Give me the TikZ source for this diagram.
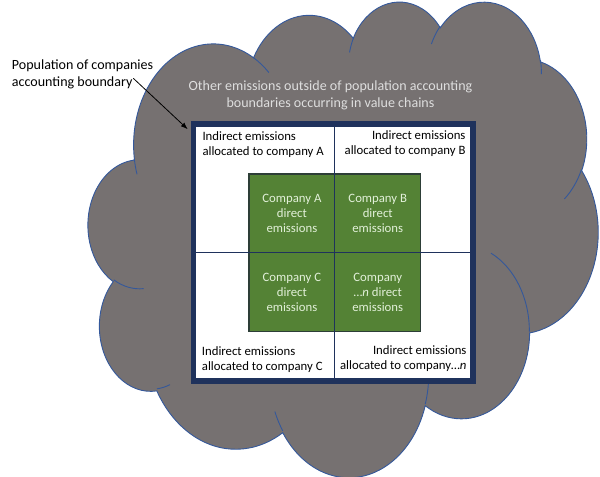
\documentclass[tikz,border=0pt]{standalone}
\usepackage{fontspec}
\setmainfont{Carlito}
\definecolor{colorCloud}{RGB}{118,113,113}
\definecolor{colorCloudEdge}{RGB}{52,88,155}
\definecolor{colorCloudText}{RGB}{222,222,222}
\definecolor{colorFrame}{RGB}{31,50,92}
\definecolor{colorDirect}{RGB}{84,130,53}
\definecolor{colorDirectEdge}{RGB}{45,62,55}
\definecolor{colorDirectText}{RGB}{226,240,217}
\usetikzlibrary{arrows.meta, positioning}
\tikzset{
  direct/.style={fill=colorDirect, draw=colorDirectEdge, line width=1.2bp, inner sep=0, outer sep=0,
    minimum width=85.85bp, minimum height=78.85bp, align=center, text=colorDirectText,
    font=\fontsize{12.8}{15}\selectfont},
  indirect/.style={inner sep=0, font=\fontsize{12.8}{15}\selectfont},
  cloudedge/.style={draw=colorCloudEdge, line width=0.9bp},
}

\begin{document}
\begin{tikzpicture}[x=1bp, y=-1bp, >={Latex[length=7bp, width=5bp]}]
\useasboundingbox (0,0) rectangle (600,477);
% cloud outside the population boundary
\begin{scope}[shift={(88.3,0.5)}, x=1.1799bp, y=-1.1007bp]
\filldraw[fill=colorCloud, cloudedge] (39,143.7)
  \foreach \w/\h/\s/\d [evaluate=\s as \ta using {atan2(\w*sin(\s),\h*cos(\s))},
                       evaluate=\s as \tb using {atan2(\w*sin(\s+\d),\h*cos(\s+\d))}] in {
    67.53/91.90/-190.487/123.781, 53.33/72.67/-144.102/89.945, 43.65/59.45/-145.808/99.723,
    48.57/65.95/-130.986/117.242, 53.33/72.73/-78.709/109.027, 67.75/92.20/-46.267/130.269,
    57.85/78.67/0.625/114.033, 67.52/92.15/22.452/115.173, 77.20/105.43/66.243/75.711,
    43.60/59.18/-274.942/146.736, 43.45/59.45/-246.829/152.519} {
    arc[x radius=\w, y radius=\h, start angle=\ta, delta angle={mod(\tb-\ta+720,360)}]
  } -- cycle;
\foreach \px/\py/\w/\h/\s/\d [evaluate=\s as \ta using {atan2(\w*sin(\s),\h*cos(\s))},
                             evaluate=\s as \tb using {atan2(\w*sin(\s+\d),\h*cos(\s+\d))}] in {
    46.93/261.77/43.45/59.45/86.742/26.430, 69.28/348.99/43.60/59.18/73.611/11.447,
    164.78/390.90/67.52/92.15/137.624/14.081, 288.27/347.51/67.52/92.15/6.453/15.998,
    341.29/229.54/57.85/78.67/-70.292/70.917, 417.98/153.54/53.33/72.73/30.318/27.752,
    383.24/54.26/48.57/65.95/-13.744/14.859, 290.78/39.52/48.57/65.95/-149.181/18.195,
    221.41/47.20/43.65/59.45/-163.494/17.686, 140.00/51.92/67.53/91.90/-66.707/12.319,
    41.27/157.89/67.53/91.90/157.654/11.858}
  \draw[cloudedge] (\px,\py) arc[x radius=\w, y radius=\h, start angle=\ta, delta angle={mod(\tb-\ta+720,360)}];
\end{scope}

\node[font=\fontsize{14.1}{17}\selectfont, text=colorCloudText, align=center] (other) at (330.5,95)
  {Other emissions outside of population accounting\\boundaries occurring in value chains};

% population boundary
\node[draw=colorFrame, fill=white, line width=5.5bp, minimum width=279.5bp, minimum height=257bp, inner sep=0] (pop) at (333.25,252.5) {};

\node[direct] (dirA) at (291.9,213.4) {Company A\\direct\\emissions};
\node[direct, right=0pt of dirA] (dirB) {Company B\\direct\\emissions};
\node[direct, below=0pt of dirA] (dirC) {Company C\\direct\\emissions};
\node[direct, right=0pt of dirC] (dirD) {Company\\…\textit{n} direct\\emissions};

\draw[colorFrame, line width=1bp] (pop.north -| dirA.east) -- (pop.south -| dirA.east);
\draw[colorFrame, line width=1bp] (pop.west |- dirA.south) -- (pop.east |- dirA.south);

\node[indirect, anchor=west, align=left] (indA) at (202.3,144.8) {Indirect emissions\\allocated to company A};
\node[indirect, anchor=east, align=right] (indB) at (465.7,143.9) {Indirect emissions\\allocated to company B};
\node[indirect, anchor=west, align=left] (indC) at (201.7,359.8) {Indirect emissions\\allocated to company C};
\node[indirect, anchor=east, align=right] (indD) at (466.7,358.9) {Indirect emissions\\allocated to company…\textit{n}};

% label and arrow
\node[font=\fontsize{14.1}{17.3}\selectfont, align=left, anchor=west, inner sep=0] (popLabel) at (11.7,74.7)
  {Population of companies\\accounting boundary};
\coordinate (tail) at (133.3,78.3);
\draw[->, line width=0.8bp] (tail) -- ([xshift=-3bp, yshift=-8bp]pop.north west);
\end{tikzpicture}
\end{document}
